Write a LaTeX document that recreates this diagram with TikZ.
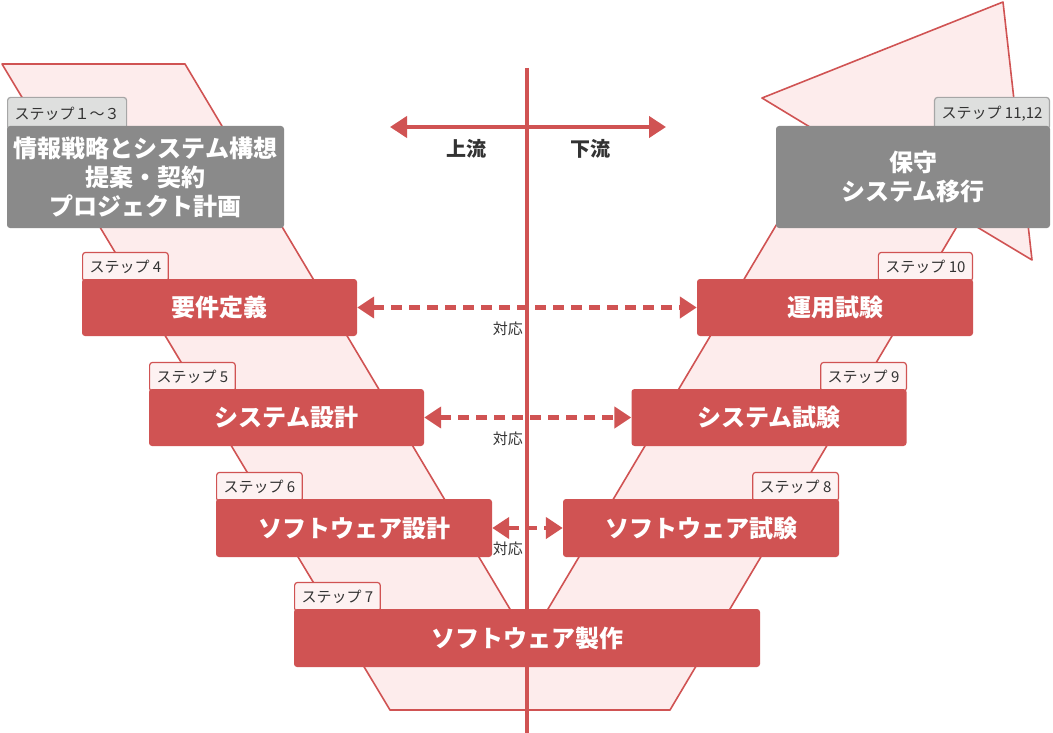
\documentclass[tikz,border=0pt]{standalone}
\usepackage{fontspec}
\setmainfont{Noto Sans CJK JP}
\usetikzlibrary{positioning,arrows.meta,calc,shapes}
\definecolor{vred}{RGB}{208,83,83}
\definecolor{vpink}{RGB}{253,236,236}
\definecolor{tabpink}{RGB}{253,242,242}
\definecolor{boxgray}{RGB}{138,138,138}
\definecolor{tabgray}{RGB}{222,223,222}
\definecolor{tabline}{RGB}{166,166,166}
\definecolor{darktext}{RGB}{51,51,51}
\tikzset{
    phase/.style={
        rectangle,
        fill=vred,
        text=white,
        font=\fontsize{24}{29}\selectfont\bfseries,
        align=center,
        inner sep=0pt,
        rounded corners=3pt
    },
    outer/.style={
        phase,
        fill=boxgray
    },
    stepbox/.style={
        rectangle,
        draw=vred,
        line width=1.2pt,
        fill=tabpink,
        text=darktext,
        font=\fontsize{15}{17}\selectfont,
        minimum height=29pt,
        inner xsep=7pt,
        inner ysep=0pt,
        rounded corners=3pt
    },
    graystep/.style={
        stepbox,
        draw=tabline,
        fill=tabgray,
        minimum height=32pt
    },
    corr/.style={
        {Triangle[length=17pt,width=21pt]}-{Triangle[length=17pt,width=21pt]},
        vred,
        line width=4.5pt,
        dash pattern=on 11pt off 7pt
    },
    corrlabel/.style={
        text=darktext,
        font=\fontsize{15}{17}\selectfont,
        inner sep=1pt
    },
    flow/.style={
        {Triangle[length=17pt,width=21pt]}-{Triangle[length=17pt,width=21pt]},
        vred,
        line width=4pt
    },
    flowlabel/.style={
        text=darktext,
        font=\fontsize{20}{22}\selectfont\bfseries
    }
}
\begin{document}
\begin{tikzpicture}[x=1pt, y=-1pt]
    \useasboundingbox (0,0) rectangle (1053,733);
    % V shape
    \filldraw[fill=vpink, draw=vred, line width=1.6pt, line join=round]
        (2,64) -- (185,64) -- (529,641) -- (828,138) -- (762,98) -- (1003,2)
        -- (1032,260) -- (962,218) -- (670,710) -- (390,710) -- cycle;
    % axis
    \coordinate (axis top) at (527,68);
    \coordinate (axis bottom) at (527,733);
    \draw[vred, line width=4pt] (axis top) -- (axis bottom);
    \coordinate (up end) at (390,127);
    \coordinate (down end) at (666,127);
    \draw[flow] (up end) -- (down end);
    \node[flowlabel] (upstream) at (466,149) {上流};
    \node[flowlabel] (downstream) at (590,149) {下流};

    % step tabs
    \node[graystep, anchor=south west] (tab plan) at (7,130) {ステップ１～３};
    \node[graystep, anchor=south east] (tab maint) at (1050,130) {ステップ 11,12};
    \node[stepbox, anchor=south west] (tab req) at (82,282) {ステップ 4};
    \node[stepbox, anchor=south west] (tab sysdes) at (149,392) {ステップ 5};
    \node[stepbox, anchor=south west] (tab swdes) at (216,502) {ステップ 6};
    \node[stepbox, anchor=south west] (tab swdev) at (294,612) {ステップ 7};
    \node[stepbox, anchor=south east] (tab swtest) at (839,502) {ステップ 8};
    \node[stepbox, anchor=south east] (tab systest) at (907,392) {ステップ 9};
    \node[stepbox, anchor=south east] (tab optest) at (973,282) {ステップ 10};

    % phases
    \node[outer, minimum width=277pt, minimum height=102pt] (plan) at (145.5,177) {情報戦略とシステム構想\\提案・契約\\プロジェクト計画};
    \node[outer, minimum width=274pt, minimum height=102pt] (maint) at (913,177) {保守\\システム移行};
    \node[phase, minimum width=275pt, minimum height=57pt] (req) at (219.5,307.5) {要件定義};
    \node[phase, minimum width=275pt, minimum height=57pt] (sysdes) at (286.5,417.5) {システム設計};
    \node[phase, minimum width=276pt, minimum height=58pt] (swdes) at (354,528) {ソフトウェア設計};
    \node[phase, minimum width=466pt, minimum height=58pt] (swdev) at (527,638) {ソフトウェア製作};
    \node[phase, minimum width=276pt, minimum height=58pt] (swtest) at (701,528) {ソフトウェア試験};
    \node[phase, minimum width=275pt, minimum height=57pt] (systest) at (769,417.5) {システム試験};
    \node[phase, minimum width=276pt, minimum height=57pt] (optest) at (835,307.5) {運用試験};

    % correspondence
    \draw[corr] (req.east) -- (optest.west);
    \draw[corr] (sysdes.east) -- (systest.west);
    \draw[corr] (swdes.east) -- (swtest.west);
    \node[corrlabel, anchor=east] (corr1) at (524,329) {対応};
    \node[corrlabel, anchor=east] (corr2) at (524,439) {対応};
    \node[corrlabel, anchor=east] (corr3) at (524,549) {対応};
\end{tikzpicture}
\end{document}
